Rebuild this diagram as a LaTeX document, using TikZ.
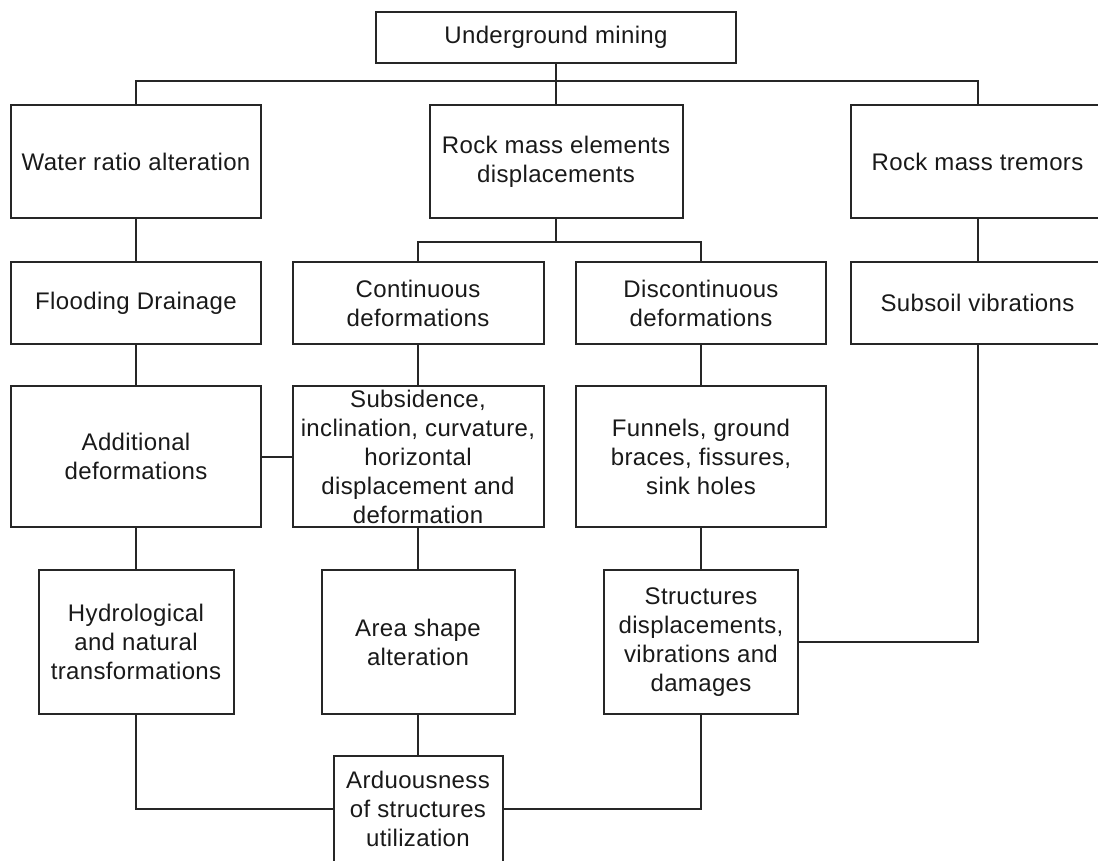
\documentclass[tikz,border=0pt]{standalone}
\usepackage{fontspec}
\setmainfont[LetterSpace=1.5]{Liberation Sans}
\begin{document}
\begin{tikzpicture}[x=1pt,y=-1pt]
\tikzset{
  box/.style={draw=black!85, line width=2pt, inner sep=0pt, align=center, text=black!90, font=\fontsize{24}{29}\selectfont},
  conn/.style={draw=black!85, line width=2pt}
}
\useasboundingbox (0,0) rectangle (1098,860);
% level 0
\node[box, minimum width=360, minimum height=50.5] (top) at (556,37.5) {Underground mining};
% level 1
\node[box, minimum width=250, minimum height=113] (wra) at (136,161.5) {Water ratio alteration};
\node[box, minimum width=253, minimum height=113] (mid) at (556,161.5) {Rock mass elements\\displacements};
\node[box, minimum width=253, minimum height=113] (rmt) at (977.5,161.5) {Rock mass tremors};
% level 2
\node[box, minimum width=250, minimum height=82] (flood) at (136,303) {Flooding Drainage};
\node[box, minimum width=251, minimum height=82] (cont) at (418,303) {Continuous\\deformations};
\node[box, minimum width=250, minimum height=82] (disc) at (701,303) {Discontinuous\\deformations};
\node[box, minimum width=253, minimum height=82] (subsoil) at (977.5,303) {Subsoil vibrations};
% level 3
\node[box, minimum width=250, minimum height=141] (add) at (136,456.5) {Additional\\deformations};
\node[box, minimum width=251, minimum height=141] (subs) at (418,456.5) {Subsidence,\\inclination, curvature,\\horizontal\\displacement and\\deformation};
\node[box, minimum width=250, minimum height=141] (fun) at (701,456.5) {Funnels, ground\\braces, fissures,\\sink holes};
% level 4
\node[box, minimum width=195, minimum height=144] (hydro) at (136,642) {Hydrological\\and natural\\transformations};
\node[box, minimum width=193, minimum height=144] (area) at (418,642) {Area shape\\alteration};
\node[box, minimum width=194, minimum height=144] (struct) at (701,642) {Structures\\displacements,\\vibrations and\\damages};
% level 5
\node[box, minimum width=169, minimum height=106] (ard) at (418,809) {Arduousness\\of structures\\utilization};
% connectors
\coordinate (j1) at (556,81);
\coordinate (j2) at (556,242);
\draw[conn] (top.south) -- (mid.north);
\draw[conn] (wra.north) |- (j1) -| (rmt.north);
\draw[conn] (mid.south) -- (j2);
\draw[conn] (cont.north) |- (j2) -| (disc.north);
\draw[conn] (wra.south) -- (flood.north);
\draw[conn] (flood.south) -- (add.north);
\draw[conn] (add.south) -- (hydro.north);
\draw[conn] (cont.south) -- (subs.north);
\draw[conn] (subs.south) -- (area.north);
\draw[conn] (area.south) -- (ard.north);
\draw[conn] (disc.south) -- (fun.north);
\draw[conn] (fun.south) -- (struct.north);
\draw[conn] (rmt.south) -- (subsoil.north);
\draw[conn] (subsoil.south) |- (struct.east);
\draw[conn] (add.east) -- (subs.west);
\draw[conn] (hydro.south) |- (ard.west);
\draw[conn] (struct.south) |- (ard.east);
\end{tikzpicture}
\end{document}
